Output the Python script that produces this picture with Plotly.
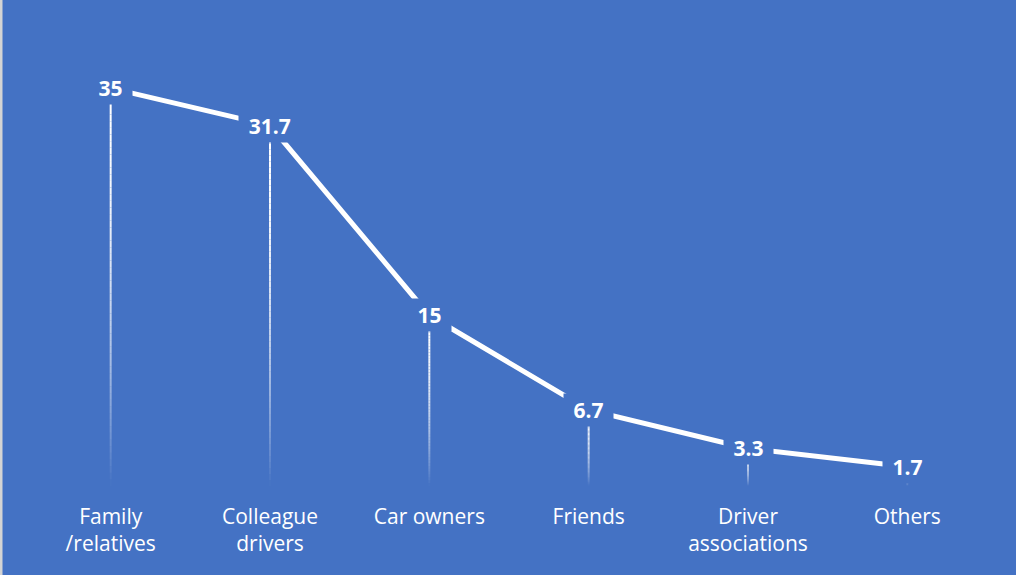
import plotly.graph_objects as go

# Survey shares (%) by source
categories = ["Family<br>/relatives", "Colleague<br>drivers", "Car owners",
              "Friends", "Driver<br>associations", "Others"]
values = [35, 31.7, 15, 6.7, 3.3, 1.7]
value_labels = ["35", "31.7", "15", "6.7", "3.3", "1.7"]

BG = "#4472C4"
W, H = 1016, 575
ML, MR, MT, MB = 31, 29, 60, 89
PLOT_W = W - ML - MR
Y_MAX = 37.47

fig = go.Figure()

# White connecting line
fig.add_trace(go.Scatter(
    x=list(range(len(categories))), y=values, mode="lines",
    line=dict(color="white", width=5), hoverinfo="skip", showlegend=False,
))

# Drop lines fading from white at the point to transparent at the axis
shapes = []
steps = 60
for i, v in enumerate(values):
    for k in range(steps):
        f0 = k / steps
        f1 = (k + 1) / steps
        fm = (f0 + f1) / 2
        alpha = max(0.0, 1 - fm ** 2)
        shapes.append(dict(
            type="line", xref="x", yref="y", layer="below",
            x0=i, x1=i, y0=v * (1 - f0), y1=v * (1 - f1),
            line=dict(color=f"rgba(255,255,255,{alpha:.3f})", width=2),
        ))

# Thin light strip along the left edge
shapes.append(dict(
    type="rect", xref="paper", yref="paper", layer="above",
    x0=-ML / PLOT_W, x1=(2.5 - ML) / PLOT_W, y0=-2, y1=2,
    fillcolor="#D4D4D4", line=dict(width=0),
))

# Value labels sitting on boxes that mask the lines around each point
annotations = []
for i, (v, lab) in enumerate(zip(values, value_labels)):
    text_w = sum(6 if ch == "." else 12.5 for ch in lab)
    annotations.append(dict(
        x=i, y=v, xref="x", yref="y", text=f"<b>{lab}</b>",
        showarrow=False, bgcolor=BG, borderpad=0,
        width=text_w + 18, height=32,
        font=dict(family="Open Sans", size=21, color="white"),
    ))

fig.update_layout(
    width=W, height=H,
    paper_bgcolor=BG, plot_bgcolor=BG,
    margin=dict(l=ML, r=MR, t=MT, b=MB),
    shapes=shapes, annotations=annotations,
    showlegend=False,
    xaxis=dict(
        type="linear", range=[-0.5, len(categories) - 0.5],
        tickmode="array", tickvals=list(range(len(categories))),
        ticktext=categories, showgrid=False, zeroline=False,
        showline=False, ticks="", ticklabelstandoff=16,
        tickfont=dict(family="Open Sans", size=21, color="white"),
    ),
    yaxis=dict(
        range=[0, Y_MAX], showgrid=False, zeroline=False,
        showline=False, showticklabels=False, ticks="",
    ),
)

fig.write_html("out.html")
